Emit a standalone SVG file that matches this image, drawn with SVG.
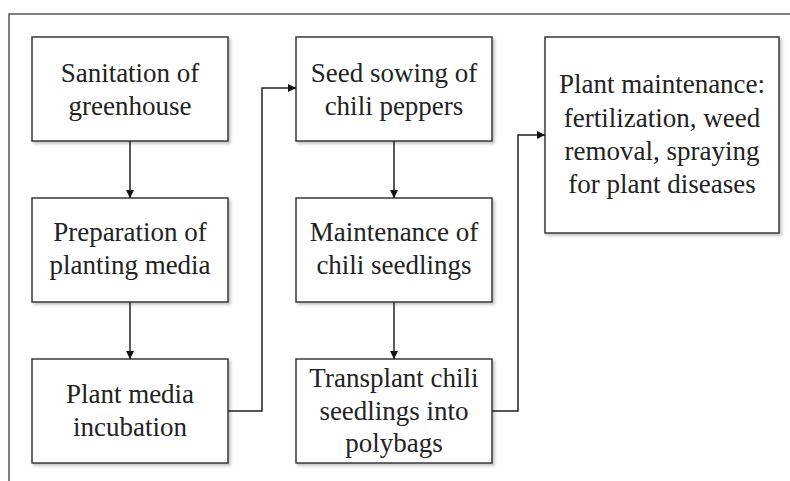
<svg xmlns="http://www.w3.org/2000/svg" width="790" height="481" viewBox="0 0 790 481">
<style>
.box{fill:#fff;stroke:#3a3a3a;stroke-width:1.5;filter:url(#sh)}
.t{font-size:27px;fill:#222;text-anchor:middle}
.c{fill:none;stroke:#222;stroke-width:1.5;marker-end:url(#ah)}
</style>
<defs>
<filter id="sh" x="-10%" y="-10%" width="130%" height="130%">
<feDropShadow dx="2" dy="2" stdDeviation="1.5" flood-color="#000" flood-opacity="0.25"/>
</filter>
<marker id="ah" viewBox="0 0 10 10" refX="10" refY="5" markerWidth="8" markerHeight="8" markerUnits="userSpaceOnUse" orient="auto">
<path d="M0,0 L10,5 L0,10 z" fill="#111"/>
</marker>
</defs>
<rect width="790" height="481" fill="#fff"/>
<path d="M9,481 V14 H790" fill="none" stroke="#555" stroke-width="1.5"/>
<g font-family="Liberation Serif, Times New Roman, DejaVu Serif, serif">
<g id="n1"><rect class="box" x="32" y="37" width="196" height="104"/><text class="t" x="130" y="82">Sanitation of</text><text class="t" x="130" y="115">greenhouse</text></g>
<g id="n2"><rect class="box" x="32" y="198" width="196" height="104"/><text class="t" x="130" y="241">Preparation of</text><text class="t" x="130" y="274">planting media</text></g>
<g id="n3"><rect class="box" x="32" y="359" width="196" height="104"/><text class="t" x="130" y="403">Plant media</text><text class="t" x="130" y="436">incubation</text></g>
<g id="n4"><rect class="box" x="296" y="37" width="196" height="104"/><text class="t" x="394" y="82">Seed sowing of</text><text class="t" x="394" y="115">chili peppers</text></g>
<g id="n5"><rect class="box" x="296" y="198" width="196" height="104"/><text class="t" x="394" y="241">Maintenance of</text><text class="t" x="394" y="274">chili seedlings</text></g>
<g id="n6"><rect class="box" x="296" y="359" width="196" height="104"/><text class="t" x="394" y="387">Transplant chili</text><text class="t" x="394" y="420">seedlings into</text><text class="t" x="394" y="452">polybags</text></g>
<g id="n7"><rect class="box" x="545" y="37" width="234" height="196"/><text class="t" x="662" y="93">Plant maintenance:</text><text class="t" x="662" y="127">fertilization, weed</text><text class="t" x="662" y="160">removal, spraying</text><text class="t" x="662" y="193">for plant diseases</text></g>
</g>
<g id="connectors">
<path class="c" d="M130,141 V198"/>
<path class="c" d="M130,302 V359"/>
<path class="c" d="M394,141 V198"/>
<path class="c" d="M394,302 V359"/>
<path class="c" d="M228,411 H262 V88 H296"/>
<path class="c" d="M492,411 H518 V135 H545"/>
</g>
</svg>
